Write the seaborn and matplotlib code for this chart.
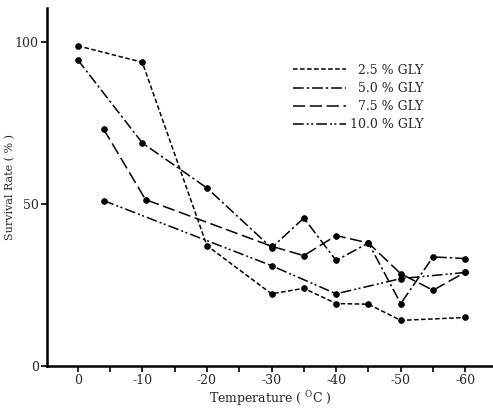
import matplotlib
matplotlib.use("Agg")
import matplotlib.pyplot as plt
from matplotlib.lines import Line2D
from matplotlib.ticker import MultipleLocator
import seaborn as sns

sns.set_theme(style="ticks")
plt.rcParams["font.family"] = ["DejaVu Serif"]
plt.rcParams["axes.unicode_minus"] = False

# temperature (°C) and survival rate (%) per glycerol concentration
temp_25 = [0, -10, -20, -30, -35, -40, -45, -50, -60]
rate_25 = [98.9, 93.8, 37.2, 22.3, 24.0, 19.3, 19.1, 14.1, 15.0]

temp_50 = [0, -10, -20, -30, -35, -40, -45, -50, -55, -60]
rate_50 = [94.6, 68.9, 55.0, 36.5, 45.7, 32.6, 38.0, 19.3, 33.7, 33.2]

temp_75 = [-4, -10.5, -30, -35, -40, -45, -50, -55, -60]
rate_75 = [73.2, 51.4, 37.0, 34.1, 40.3, 38.0, 28.5, 23.4, 29.0]

temp_100 = [-4, -30, -40, -50, -60]
rate_100 = [51.1, 31.0, 22.3, 27.0, 28.9]

labels = ["\u20072.5 % GLY", "\u20075.0 % GLY", "\u20077.5 % GLY", "10.0 % GLY"]

series = [
    (temp_25, rate_25, (0, (3, 1.6))),
    (temp_50, rate_50, (0, (7, 2, 1.5, 2))),
    (temp_75, rate_75, (0, (8, 3))),
    (temp_100, rate_100, (0, (7, 2, 1.3, 1.6, 1.3, 2))),
]

fig = plt.figure(figsize=(4.93, 4.09), dpi=100)
ax = fig.add_axes([0.0953, 0.105, 0.905, 0.875])

handles = []
for (t, r, ls), lab in zip(series, labels):
    sns.lineplot(x=t, y=r, ax=ax, color="black", linewidth=1.1,
                 linestyle=ls, marker="o", markersize=4,
                 markeredgecolor="black", sort=False, legend=False)
    handles.append(Line2D([], [], color="black", linewidth=1.1, linestyle=ls))

ax.set_xlim(4.75, -64.3)
ax.set_ylim(0, 110.5)
ax.set_xticks([0, -10, -20, -30, -40, -50, -60])
ax.xaxis.set_minor_locator(MultipleLocator(5))
ax.set_yticks([0, 50, 100])
ax.tick_params(axis="both", which="both", length=4, width=1.2,
               labelsize=9, color="black", pad=2)
for s in ["left", "bottom"]:
    ax.spines[s].set_linewidth(1.8)
    ax.spines[s].set_color("black")
sns.despine(ax=ax)

ax.set_xlabel("Temperature ( $^\\mathregular{O}$C )", fontsize=9, labelpad=1)
ax.set_ylabel("Survival Rate ( % )", fontsize=8)
ax.yaxis.set_label_coords(-0.072, 0.5)

ax.legend(handles, labels, loc="upper left", bbox_to_anchor=(0.552, 0.845),
          frameon=False, fontsize=9, handlelength=4.2, handletextpad=0.3,
          labelspacing=0.42, borderpad=0, borderaxespad=0)

fig.savefig("out.png", dpi=100)
